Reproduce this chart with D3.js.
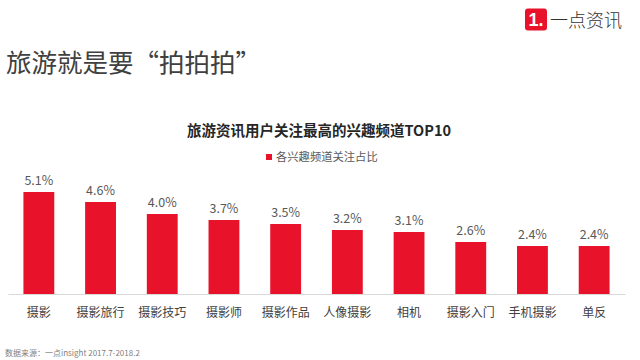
<!DOCTYPE html>
<html><head><meta charset="utf-8">
<script src="https://cdn.jsdelivr.net/npm/d3@7"></script>
<style>body{margin:0;background:#fff;}svg{display:block;}</style>
</head><body>
<svg id="c" width="640" height="360"></svg>
<script>
const categories = ["摄影","摄影旅行","摄影技巧","摄影师","摄影作品","人像摄影","相机","摄影入门","手机摄影","单反"];
const values = [5.1, 4.6, 4.0, 3.7, 3.5, 3.2, 3.1, 2.6, 2.4, 2.4];
const valueLabels = ["5.1%","4.6%","4.0%","3.7%","3.5%","3.2%","3.1%","2.6%","2.4%","2.4%"];
const seriesName = "各兴趣频道关注占比";
const chartTitle = "旅游资讯用户关注最高的兴趣频道TOP10";
const pageTitle = "旅游就是要“拍拍拍”";
const sourceNote = "数据来源：一点insight 2017.7-2018.2";
const brand = "一点资讯";

const font = "'Noto Sans CJK SC','Noto Sans',sans-serif";
const red = "#E8132B";
const svg = d3.select("#c").style("font-family", font);

// Logo
svg.append("rect").attr("x",525).attr("y",8.5).attr("width",22).attr("height",22).attr("rx",3).attr("fill",red);
svg.append("text").attr("x",536).attr("y",26).attr("text-anchor","middle").attr("fill","#fff")
  .attr("font-size",18).attr("font-weight","bold").attr("font-family","'Liberation Sans',Arial,sans-serif").text("1.");
svg.append("text").attr("x",550).attr("y",26.5).attr("fill","#333").attr("font-size",18).attr("font-weight",300).text(brand);

// Page title
svg.append("text").attr("x",6).attr("y",72).attr("fill","#404040").attr("font-size",25.5).text(pageTitle);

// Chart title
svg.append("text").attr("x",319).attr("y",136).attr("text-anchor","middle").attr("fill","#262626")
  .attr("font-size",14.5).attr("font-weight","bold").text(chartTitle);

// Legend
svg.append("rect").attr("x",266).attr("y",154).attr("width",6).attr("height",6).attr("fill",red);
svg.append("text").attr("x",276).attr("y",161).attr("fill","#595959").attr("font-size",11.3).text(seriesName);

// Scales
const x = d3.scaleBand().domain(categories).range([8, 625]).paddingInner(0.5).paddingOuter(0.25);
const y = d3.scaleLinear().domain([0, 5.1]).range([294, 192]);

const g = svg.append("g");
g.selectAll("rect.bar").data(values).join("rect").attr("class","bar")
  .attr("x",(d,i)=>x(categories[i])).attr("width",x.bandwidth())
  .attr("y",d=>y(d)).attr("height",d=>y(0)-y(d)).attr("fill",red);

g.selectAll("text.val").data(values).join("text").attr("class","val")
  .attr("x",(d,i)=>x(categories[i])+x.bandwidth()/2).attr("y",d=>y(d)-7)
  .attr("text-anchor","middle").attr("fill","#595959").attr("font-size",12.5)
  .text((d,i)=>valueLabels[i]);

// Axis
const axis = svg.append("g").attr("transform","translate(0,294)")
  .call(d3.axisBottom(x).tickSize(0).tickPadding(14));
axis.select(".domain").attr("stroke","#d9d9d9").attr("stroke-width",1);
axis.selectAll("text").attr("fill","#404040").attr("font-size",12).attr("font-family",font);

// Source
svg.append("text").attr("x",5).attr("y",356).attr("fill","#7f7f7f").attr("font-size",8).text(sourceNote);
</script>
</body></html>
